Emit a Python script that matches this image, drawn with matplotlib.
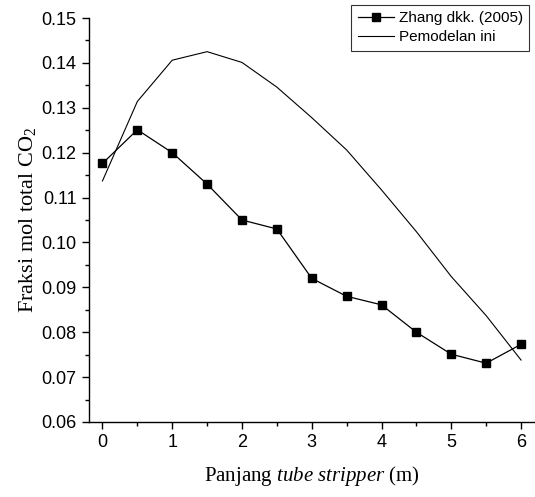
import matplotlib
matplotlib.use("Agg")
import matplotlib.pyplot as plt

# data
length = [0, 0.5, 1, 1.5, 2, 2.5, 3, 3.5, 4, 4.5, 5, 5.5, 6]
zhang = [0.1176, 0.1251, 0.1200, 0.1130, 0.1050, 0.1030, 0.0920,
         0.0880, 0.0861, 0.0800, 0.0751, 0.0731, 0.0773]
model = [0.1137, 0.1314, 0.1406, 0.1425, 0.1401, 0.1346, 0.1278,
         0.1206, 0.1117, 0.1024, 0.0924, 0.0837, 0.0738]

plt.rcParams['font.family'] = ['Liberation Sans', 'DejaVu Sans']
plt.rcParams['mathtext.fontset'] = 'custom'
plt.rcParams['mathtext.rm'] = 'Liberation Serif'
plt.rcParams['mathtext.it'] = 'Liberation Serif:italic'

fig = plt.figure(figsize=(5.35, 4.97), dpi=100)
ax = fig.add_axes([88.5 / 535, 1 - 422 / 497, (535 - 88.5) / 535, (422 - 18) / 497])

ax.plot(length, zhang, color='black', lw=0.9, marker='s', markersize=5.6,
        label='Zhang dkk. (2005)')
ax.plot(length, model, color='black', lw=0.8, label='Pemodelan ini')

ax.set_xlim(-0.2, 6.2)
ax.set_ylim(0.06, 0.15)
ax.set_xticks(range(0, 7))
ax.set_xticks([0.5 + i for i in range(6)], minor=True)
ax.set_yticks([0.06 + 0.01 * i for i in range(10)])
ax.set_yticks([0.065 + 0.01 * i for i in range(9)], minor=True)
ax.set_yticklabels(['%.2f' % (0.06 + 0.01 * i) for i in range(10)])

ax.spines['top'].set_visible(False)
ax.spines['right'].set_visible(False)
for s in ('left', 'bottom'):
    ax.spines[s].set_linewidth(1.0)
ax.tick_params(which='major', direction='out', length=5, width=1.0, labelsize=13, pad=3.5)
ax.tick_params(which='minor', direction='out', length=3, width=1.0)

ax.set_xlabel('Panjang $\\it{tube\\ stripper}$ (m)', fontfamily='Liberation Serif',
              fontsize=15)
ax.set_ylabel('Fraksi mol total CO$_2$', fontfamily='Liberation Serif',
              fontsize=16)
ax.xaxis.set_label_coords(0.5, -0.104)
ax.yaxis.set_label_coords(-0.113, 0.5)

leg = fig.legend(loc='upper right', bbox_to_anchor=(529 / 535, 1 - 5 / 497),
                 fontsize=11, frameon=True, fancybox=False, handlelength=2.4,
                 borderpad=0.4, labelspacing=0.35, handletextpad=0.3,
                 borderaxespad=0)
leg.get_frame().set_edgecolor('black')
leg.get_frame().set_linewidth(0.8)

fig.savefig('out.png', dpi=100)
